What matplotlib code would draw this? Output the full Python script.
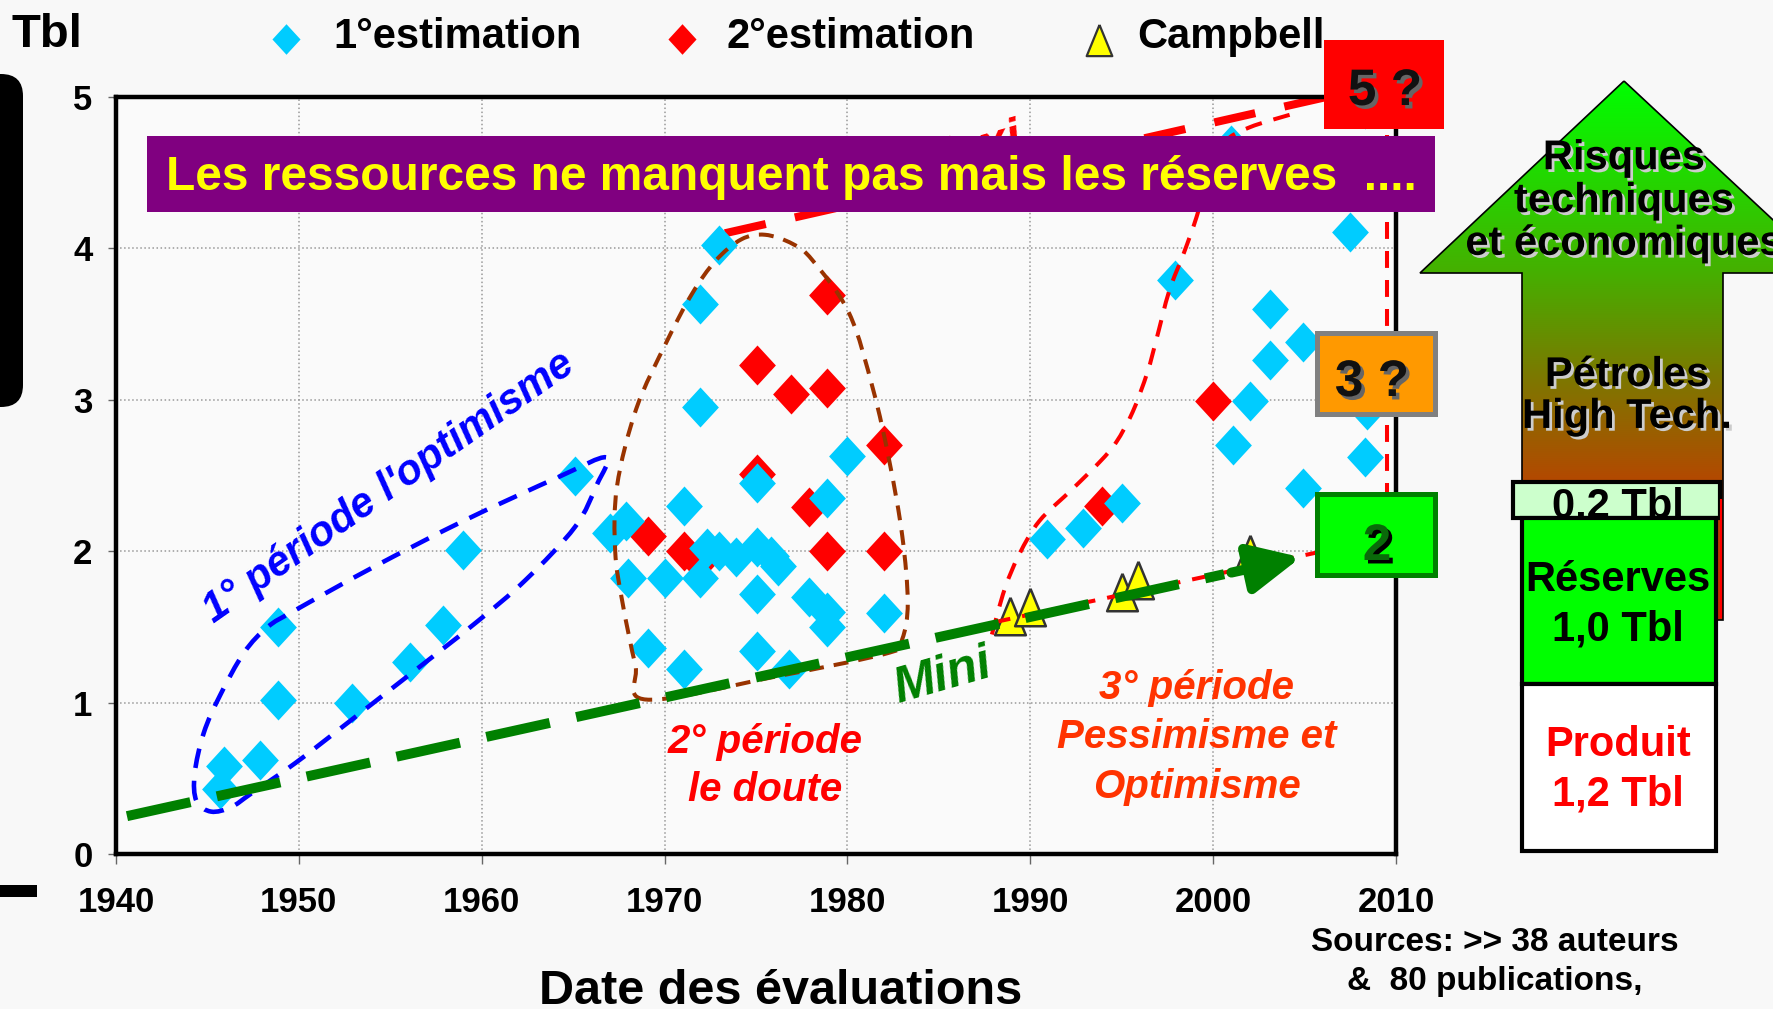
import numpy as np
import matplotlib.pyplot as plt
from matplotlib.patches import Rectangle, Polygon, FancyBboxPatch, PathPatch
from matplotlib.path import Path
import matplotlib.patheffects as pe

plt.rcParams['font.family'] = ['Liberation Sans', 'DejaVu Sans']
plt.rcParams['font.weight'] = 'bold'

W, H = 1774, 1009

# 1° estimation (cyan diamonds)
est1_year = [1945.7, 1945.9, 1947.9, 1948.85, 1948.85, 1952.9, 1956.1, 1957.9,
             1959.0, 1965.1, 1967.0, 1967.9, 1968.0, 1969.1, 1970.0, 1971.05,
             1971.05, 1971.95, 1971.95, 1971.95, 1973.0, 1972.3, 1973.0, 1973.9,
             1975.05, 1975.8, 1976.2, 1975.05, 1975.05, 1975.05, 1976.8, 1977.9,
             1978.9, 1978.9, 1978.9, 1980.0, 1982.0,
             1990.9, 1992.9, 1995.0, 1997.9, 2001.0, 2001.1, 2002.0, 2003.1,
             2003.1, 2004.9, 2004.9, 2007.5, 2008.3, 2008.4, 2008.3]
est1_tbl = [0.43, 0.58, 0.62, 1.02, 1.50, 1.00, 1.27, 1.51,
            2.01, 2.50, 2.12, 2.20, 1.82, 1.36, 1.82, 2.30,
            1.22, 1.82, 2.95, 3.63, 4.02, 2.02, 2.00, 1.96,
            2.03, 1.97, 1.90, 2.45, 1.72, 1.34, 1.22, 1.70,
            1.60, 1.50, 2.35, 2.63, 1.59,
            2.08, 2.15, 2.32, 3.79, 4.68, 2.70, 2.99, 3.60,
            3.26, 3.38, 2.42, 4.11, 2.62, 2.93, 4.92]

# 2° estimation (red diamonds)
est2_year = [1969.1, 1971.05, 1971.9, 1975.05, 1975.05, 1976.9, 1977.9,
             1978.9, 1978.9, 1978.9, 1982.0, 1982.0, 1993.9, 2000.0]
est2_tbl = [2.10, 2.00, 1.93, 3.23, 2.51, 3.04, 2.29,
            3.69, 3.08, 2.00, 2.70, 2.00, 2.30, 2.99]

# Campbell (yellow triangles)
camp_year = [1988.9, 1990.0, 1995.0, 1995.9, 2002.0]
camp_tbl = [1.57, 1.63, 1.73, 1.81, 1.98]

# trend lines
mini_year = [1940.6, 2004.8]
mini_tbl = [0.25, 1.96]
maxi_year = [1973.3, 2006.2]
maxi_tbl = [4.10, 5.00]
camp_trend_year = [1988.0, 2006.0]
camp_trend_tbl = [1.53, 2.00]
edge_year = [2009.5, 2009.5]
edge_tbl = [4.75, 2.0]

# envelopes of the three periods
p1_year = [1966.8, 1964.2, 1959.0, 1954.0, 1949.8, 1948.3, 1947.0, 1945.7, 1944.8,
           1944.3, 1944.4, 1945.2, 1946.3, 1947.4, 1949.8, 1952.6, 1955.9,
           1959.6, 1962.4, 1965.1, 1966.3]
p1_tbl = [2.62, 2.49, 2.20, 1.89, 1.61, 1.50, 1.33, 1.05, 0.80,
          0.53, 0.35, 0.28, 0.31, 0.40, 0.60, 0.86, 1.17,
          1.52, 1.81, 2.16, 2.44]
p2_year = [1969.0, 1968.4, 1967.7, 1967.3, 1967.4, 1968.45, 1970.1, 1971.5, 1972.8,
           1974.2, 1975.5, 1977.0, 1978.1, 1980.1, 1981.4, 1982.3, 1983.0, 1983.3,
           1983.0, 1982.3, 1976.0]
p2_tbl = [1.02, 1.25, 1.66, 2.00, 2.43, 2.94, 3.38, 3.70, 3.92,
          4.06, 4.09, 4.03, 3.92, 3.57, 3.07, 2.59, 2.10, 1.66,
          1.42, 1.33, 1.17]
p3_year = [1987.9, 1988.6, 1989.4, 1990.5, 1992.3, 1993.8, 1994.7, 1995.6, 1996.4,
           1996.9, 1997.6, 1998.4, 1999.1, 1999.8, 2000.6, 2002.0, 2004.4]
p3_tbl = [1.45, 1.75, 1.98, 2.20, 2.41, 2.59, 2.72, 2.92, 3.18,
          3.40, 3.72, 3.97, 4.21, 4.50, 4.70, 4.80, 4.89]


def smooth(xs, ys, closed=False):
    p = np.column_stack([xs, ys])
    if closed:
        p = np.vstack([p[-1], p, p[0], p[1]])
    else:
        p = np.vstack([p[0], p, p[-1]])
    verts = [p[1]]
    codes = [Path.MOVETO]
    for i in range(1, len(p) - 2):
        verts += [p[i] + (p[i + 1] - p[i - 1]) / 6,
                  p[i + 1] - (p[i + 2] - p[i]) / 6,
                  p[i + 1]]
        codes += [Path.CURVE4] * 3
    return Path(verts, codes)


diamond = [(0, 1), (0.92, 0), (0, -1), (-0.92, 0), (0, 1)]
triangle = [(0, 1), (0.82, -1), (-0.82, -1), (0, 1)]

fig = plt.figure(figsize=(W / 100, H / 100), dpi=100, facecolor='#f8f8f8')
ax = fig.add_axes([116 / W, 1 - 854 / H, 1280 / W, 757 / H], facecolor='#fafafa')

ax.set_xlim(1940, 2010)
ax.set_ylim(0, 5)
ax.set_xticks(range(1940, 2011, 10))
ax.set_yticks(range(0, 6))
ax.grid(True, color='#999999', linestyle=':', linewidth=1.1)
ax.set_axisbelow(True)
for s in ax.spines.values():
    s.set_linewidth(3.2)
ax.tick_params(axis='x', labelsize=25, length=7, width=1, color='#666666', pad=16)
ax.tick_params(axis='y', labelsize=25, length=6, width=1, color='#666666', pad=11)

# maxi line + label (mostly hidden by the banner)
ax.plot(maxi_year, maxi_tbl, color='red', lw=5.8, ls=(0, (5.2, 3.7)), zorder=2)
ax.text(1986.6, 4.63, 'Maxi', color='red', fontsize=36, style='italic',
        rotation=16, ha='center', va='center', zorder=2)

ax.plot(est2_year, est2_tbl, ls='none', marker=diamond, ms=28.8, color='red',
        mec='none', zorder=3)
ax.plot(est1_year, est1_tbl, ls='none', marker=diamond, ms=28.8, color='#00ccff',
        mec='none', zorder=4)
ax.plot(camp_year, camp_tbl, ls='none', marker=triangle, ms=27, mfc='yellow',
        mec='#333333', mew=1.8, zorder=4)

ax.add_patch(PathPatch(smooth(p1_year, p1_tbl, closed=True), fill=False,
                       ec='blue', lw=3.3, ls=(0, (4.3, 2.8)), zorder=5))
ax.add_patch(PathPatch(smooth(p2_year, p2_tbl, closed=True), fill=False,
                       ec='#993300', lw=2.9, ls=(0, (3.7, 2.5)), zorder=5))
ax.add_patch(PathPatch(smooth(p3_year, p3_tbl), fill=False,
                       ec='red', lw=2.9, ls=(0, (4.2, 3.0)), zorder=5))
ax.plot(camp_trend_year, camp_trend_tbl, color='red', lw=2.9, ls=(0, (4.2, 3.0)), zorder=5)
ax.plot(edge_year, edge_tbl, color='red', lw=2.9, ls=(0, (4.2, 3.0)), zorder=5)

# mini line with its arrow head
head_from = 2001.0
head_from_tbl = np.interp(head_from, mini_year, mini_tbl)
ax.plot([mini_year[0], head_from - 0.4],
        [mini_tbl[0], np.interp(head_from - 0.4, mini_year, mini_tbl)],
        color='green', lw=7.2, ls=(0, (6.5, 2.7)), zorder=6, solid_capstyle='butt')
ax.annotate('', xy=(mini_year[1], mini_tbl[1]), xytext=(head_from, head_from_tbl),
            arrowprops=dict(arrowstyle='-|>,head_length=1.15,head_width=0.55',
                            mutation_scale=27, color='green', lw=7.2,
                            shrinkA=0, shrinkB=0), zorder=6)

ax.text(1954.9, 2.42, "1° période l'optimisme", color='blue', fontsize=30,
        style='italic', rotation=35, rotation_mode='anchor', ha='center',
        va='center', zorder=7)
ax.text(1975.5, 0.58, '2° période\nle doute', color='red', fontsize=29,
        style='italic', ha='center', va='center', linespacing=1.35, zorder=7)
ax.text(1999.1, 0.77, '3° période\nPessimisme et\nOptimisme', color='#ff3300',
        fontsize=29, style='italic', ha='center', va='center', linespacing=1.37,
        zorder=7)
ax.text(1985.2, 1.17, 'Mini', color='#008000', fontsize=36, style='italic',
        rotation=16, rotation_mode='anchor', ha='center', va='center', zorder=7)

# overlay in pixel coordinates for the decorations
ov = fig.add_axes([0, 0, 1, 1], zorder=5)
ov.set_xlim(0, W)
ov.set_ylim(H, 0)
ov.axis('off')

ov.add_patch(FancyBboxPatch((-40, 74), 63, 333, boxstyle='round,pad=0,rounding_size=22',
                            fc='black', ec='none'))
ov.add_patch(Rectangle((0, 885), 37, 12, fc='black', ec='none'))

ov.text(12, 47, 'Tbl', fontsize=34, ha='left', va='baseline')

# legend
ov.plot([286], [39], marker=diamond, ms=22, color='#00ccff', mec='none')
ov.plot([682], [39], marker=diamond, ms=22, color='red', mec='none')
ov.plot([1099], [40], marker=triangle, ms=22.5, mfc='yellow', mec='#333333', mew=1.6)
ov.text(333, 48, '1°estimation', fontsize=30, va='baseline')
ov.text(727, 48, '2°estimation', fontsize=30, va='baseline')
ov.text(1137, 48, 'Campbell', fontsize=30, va='baseline')

# banner
ov.add_patch(Rectangle((147, 136), 1288, 76, fc='#800080', ec='none', zorder=2))
ov.text(791, 190, 'Les ressources ne manquent pas mais les réserves  ....',
        color='yellow', fontsize=34.5, ha='center', va='baseline', zorder=3)

# scenario boxes
shadow_gray = [pe.withSimplePatchShadow(offset=(2.5, -2.5), shadow_rgbFace='#666666', alpha=1)]
ov.add_patch(Rectangle((1324, 40), 120, 89, fc='red', ec='none', zorder=4))
ov.text(1385, 105, '5 ?', fontsize=37, ha='center', va='baseline', color='#111111',
        path_effects=shadow_gray, zorder=5)
ov.add_patch(Rectangle((1317, 333), 118, 81, fc='#ff9900', ec='#808080', lw=3.6, zorder=4))
ov.text(1372, 396, '3 ?', fontsize=37, ha='center', va='baseline', color='#111111',
        path_effects=shadow_gray, zorder=5)
ov.add_patch(Rectangle((1317, 494), 118, 81, fc='#00ff00', ec='#008000', lw=3.6, zorder=4))
ov.text(1377, 560, '2', fontsize=37, ha='center', va='baseline', color='#0a6a0a',
        path_effects=[pe.withSimplePatchShadow(offset=(2.5, -2.5), shadow_rgbFace='black',
                                               alpha=1)], zorder=5)

# big gradient arrow
arrow_pts = [(1624, 81), (1830, 273), (1723, 273), (1723, 620), (1522, 620),
             (1522, 273), (1420, 273)]
arrow = Polygon(arrow_pts, closed=True, fc='none', ec='black', lw=1.2, zorder=3)
ov.add_patch(arrow)
rows = np.linspace(81, 620, 400)
stop_y = [81, 273, 373, 482, 620]
stop_c = np.array([[0, 255, 0], [70, 175, 0], [122, 122, 0], [180, 72, 0],
                   [200, 40, 0]]) / 255
grad = np.stack([np.interp(rows, stop_y, stop_c[:, k]) for k in range(3)], axis=1)
img = ov.imshow(grad[:, None, :], extent=(1420, 1830, 620, 81), origin='upper',
                aspect='auto', zorder=2)
img.set_clip_path(arrow)
ov.set_xlim(0, W)
ov.set_ylim(H, 0)

light_shadow = [pe.withSimplePatchShadow(offset=(2, -2), shadow_rgbFace='#cccccc', alpha=1)]
ov.text(1624, 201, 'Risques\ntechniques\net économiques', fontsize=30, ha='center',
        va='center', linespacing=1.09, path_effects=light_shadow, zorder=4)
ov.text(1627, 396, 'Pétroles\nHigh Tech.', fontsize=30, ha='center', va='center',
        linespacing=1.06, path_effects=light_shadow, zorder=4)

ov.add_patch(Rectangle((1513, 482), 207, 36, fc='#ccffcc', ec='black', lw=3, zorder=5))
ov.text(1618, 517, '0,2 Tbl', fontsize=30, ha='center', va='baseline', zorder=6)
ov.plot([1721, 1721], [500, 617], color='red', lw=1.5, zorder=6)
ov.add_patch(Rectangle((1522, 518), 194, 166, fc='#00ff00', ec='black', lw=3, zorder=7))
ov.text(1618, 605, 'Réserves\n1,0 Tbl', fontsize=30, ha='center', va='center',
        linespacing=1.3, zorder=8)
ov.add_patch(Rectangle((1522, 684), 194, 167, fc='white', ec='black', lw=3, zorder=7))
ov.text(1618, 770, 'Produit\n1,2 Tbl', fontsize=30, ha='center', va='center',
        color='red', linespacing=1.3, zorder=8)

ov.text(1495, 962, 'Sources: >> 38 auteurs\n&  80 publications,', fontsize=24,
        ha='center', va='center', linespacing=1.37)
ov.text(781, 1004, 'Date des évaluations', fontsize=35, ha='center', va='baseline')

fig.savefig('out.png', dpi=100, facecolor=fig.get_facecolor())
